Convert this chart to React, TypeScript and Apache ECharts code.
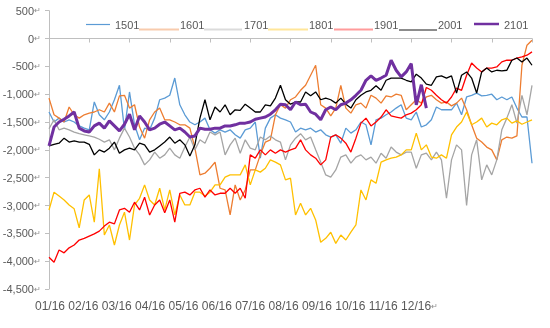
import React, { useEffect, useRef } from "react";
import * as echarts from "echarts";

const seriesNames = ["1501", "1601", "1701", "1801", "1901", "2001", "2101"];
const monthLabels = ["01/16", "02/16", "03/16", "04/16", "05/16", "06/16", "07/16", "08/16", "09/16", "10/16", "11/16", "12/16"];

const s1501 = [
  -1320, -1500, -1430, -1500, -1460, -1500, -1570, -1610, -1640, -1140,
  -1370, -1460, -1320, -1100, -840, -1640, -960, -1550, -1820, -1610,
  -1640, -1430, -1100, -1070, -1020, -710, -1190, -1370, -1500, -1550,
  -1500, -1430, -1640, -1700, -1640, -1680, -1640, -1730, -1790, -1640,
  -1610, -1500, -2150, -1610, -1430, -1370, -1430, -1460, -1500, -1680,
  -1610, -1640, -1610, -1680, -1640, -1730, -1770, -1730, -1880, -1610,
  -1700, -1640, -1500, -1550, -1910, -1460, -1430, -1370, -1320, -1250,
  -1190, -1430, -1460, -1320, -1590, -1550, -1460, -1230, -1280, -1280,
  -1280, -1160, -1370, -1050, -1020, -980, -1030, -1020, -1000, -1100,
  -1050, -1100, -1050, -1250, -1410, -1410, -2240,
];
const s1601 = [
  -1070, -1370, -1430, -1500, -1230, -1370, -1430, -1370, -1340, -1320,
  -1280, -1320, -1160, -1320, -1030, -1020, -1250, -1190, -1590, -1790,
  -1460, -1320, -1250, -1460, -1460, -1500, -1550, -1550, -1610, -1970,
  -2450, -2420, -2330, -2220, -2690, -2720, -3170, -2630, -2900, -2720,
  -2360, -2360, -2090, -1860, -1820, -1370, -1190, -1250, -1100, -1050,
  -930, -840, -660, -480, -1190, -1250, -1390, -1250, -840, -1250,
  -1340, -1190, -1160, -1250, -1020, -1070, -1160, -1030, -1050, -1000,
  -1020, -1280, -1190, -1100, -1160, -1050, -1020, -1100, -1160, -1140,
  -1210, -1160, -1070, -1280, -1550, -1790, -1860, -1950, -2000, -2180,
  -1820, -1770, -1790, -1750, -480, -120, -30,
];
const s1701 = [
  -1620, -1460, -1640, -1610, -1640, -1680, -1710, -1730, -1750, -1770,
  -1810, -1860, -1820, -2000, -1790, -1610, -1770, -1970, -2090, -2270,
  -2180, -2040, -2150, -2090, -1970, -2090, -2150, -1950, -1770, -2000,
  -1820, -1880, -1680, -1730, -1680, -2090, -1910, -1790, -2060, -1820,
  -1970, -2000, -1770, -1820, -1750, -1820, -1860, -2180, -1910, -1790,
  -1710, -1820, -1770, -2000, -2220, -2450, -2490, -2360, -2130, -2090,
  -2240, -2130, -2090, -2180, -2130, -2240, -2060, -2150, -1950, -2040,
  -2090, -2040, -2040, -2330, -2090, -2060, -2180, -2040, -2180, -2870,
  -2180, -1910, -2000, -3000, -2090, -1820, -2540, -2270, -2450, -2180,
  -1640, -1430, -1190, -1520, -1020, -1370, -840,
];
const s1801 = [
  -3080, -2760, -2830, -2900, -2990, -3060, -3400, -2900, -2810, -3300,
  -2340, -3530, -3350, -3710, -3350, -3120, -3620, -2990, -2870, -2630,
  -2900, -2990, -2690, -3080, -2720, -3170, -2810, -2990, -2990, -2760,
  -2760, -2830, -2760, -2630, -2630, -2490, -2450, -2450, -2450, -2270,
  -2630, -2360, -2400, -2330, -2180, -2220, -2270, -2540, -2510, -3170,
  -2960, -3170, -3050, -3260, -3660, -3590, -3480, -3680, -3530, -3620,
  -3480, -3350, -2720, -2900, -2540, -2600, -2220, -2180, -2150, -2130,
  -2090, -2000, -2000, -1700, -2000, -1910, -2130, -2150, -2090, -2150,
  -1730, -1590, -1500, -1320, -1550, -1500, -1430, -1590, -1520, -1550,
  -1460, -1430, -1520, -1480, -1540, -1500, -1460,
];
const s1901 = [
  -3930, -4020, -3800, -3850, -3760, -3710, -3620, -3590, -3550, -3510,
  -3460, -3370, -3300, -3330, -3080, -3050, -3120, -2940, -3080, -2850,
  -3170, -2990, -2900, -3130, -2900, -3300, -2780, -2760, -2810, -2720,
  -2690, -2850, -2720, -2810, -2780, -2780, -2690, -2780, -2690, -2870,
  -2090, -2150, -2000, -2090, -2000, -2060, -2000, -2040, -2000, -1970,
  -1820, -2000, -2090, -2150, -2270, -2180, -1770, -1730, -1790, -1880,
  -2040, -1790, -1520, -1430, -1570, -1500, -1410, -1280, -1390, -1410,
  -1430, -1370, -1340, -1280, -1190, -880, -930, -1020, -1100, -1160,
  -1050, -890, -930, -660, -440, -530, -600, -530, -530, -510,
  -420, -390, -390, -350, -330, -300, -240,
];
const s2001 = [
  -1930, -1900, -1880, -1790, -1860, -1840, -1860, -1860, -1900, -2090,
  -2000, -2040, -1970, -1860, -2060, -2000, -1970, -2000, -1880, -1910,
  -2040, -2000, -1930, -1860, -1770, -1880, -1820, -1910, -2110, -1910,
  -1430, -1100, -1460, -1230, -1320, -1190, -1370, -1280, -1290, -1180,
  -1250, -1320, -1320, -1190, -1210, -1070, -840, -1100, -1180, -1140,
  -1140, -960, -1030, -960, -1100, -1070, -1100, -1160, -1070, -1180,
  -1250, -1100, -1020, -960, -930, -850, -930, -750, -710, -710,
  -710, -750, -780, -640, -710, -820, -840, -690, -670, -710,
  -670, -980, -660, -600, -710, -980, -600, -530, -600, -570,
  -580, -570, -390, -350, -420, -350, -480,
];
const s2101 = [
  -1930, -1590, -1500, -1450, -1390, -1320, -1610, -1660, -1680, -1570,
  -1520, -1610, -1480, -1570, -1660, -1540, -1360, -1640, -1390, -1500,
  -1640, -1610, -1540, -1500, -1570, -1640, -1610, -1680, -1770, -1750,
  -1610, -1630, -1630, -1610, -1610, -1570, -1570, -1550, -1520, -1520,
  -1500, -1450, -1430, -1410, -1360, -1280, -1180, -1190, -1280, -1140,
  -1190, -1180, -1320, -1360, -1460, -1280, -1230, -1280, -1190, -1160,
  -1100, -1020, -930, -750, -670, -750, -710, -660, -390, -570,
  -690, -600, -450, -1190, -830, -1250,
];

const allSeries = [s1501, s1601, s1701, s1801, s1901, s2001, s2101];
const lineColors = ["#5B9BD5", "#ED7D31", "#A5A5A5", "#FFC000", "#FF0000", "#000000", "#7030A0"];
const legendColors = ["#5B9BD5", "#F8CBAD", "#DBDBDB", "#FFE699", "#FF9B9B", "#8C8C8C", "#7030A0"];
const lineWidths = [1.3, 1.3, 1.3, 1.3, 1.3, 1.3, 3];

// legend layout (pixel positions of the hand-drawn legend)
const legendIconX = [[86, 110], [139, 179], [204, 242], [268, 308], [334, 373], [399, 437], [474, 499]];
const legendIconY = [24.5, 29.5, 29.5, 29.5, 29.5, 30, 24];
const legendIconW = [1.2, 2, 2, 2, 2, 2, 2.5];
const legendTextX = [115, 180, 244, 309, 374, 438, 504];

const FONT = "'Liberation Sans', Arial, sans-serif";
const TXT = "#595959";

export default function App() {
  const ref = useRef<HTMLDivElement>(null);
  useEffect(() => {
    const chart = echarts.init(ref.current!, null, { renderer: "svg" });
    const legendGraphics: any[] = [];
    seriesNames.forEach((n, i) => {
      legendGraphics.push({
        type: "line",
        shape: { x1: legendIconX[i][0], y1: legendIconY[i], x2: legendIconX[i][1], y2: legendIconY[i] },
        style: { stroke: legendColors[i], lineWidth: legendIconW[i] },
      });
      legendGraphics.push({
        type: "text",
        x: legendTextX[i],
        y: 25,
        style: { text: n, font: `11px ${FONT}`, fill: TXT, verticalAlign: "middle", align: "left" },
      });
    });
    const option: any = {
      animation: false,
      textStyle: { fontFamily: FONT, color: TXT },
      grid: { left: 49, right: 18, top: 10.7, bottom: 39, outerBoundsMode: "none" },
      xAxis: {
        type: "value",
        min: 0,
        max: 96,
        interval: 8,
        axisLine: { show: true, onZero: true, lineStyle: { color: "#BFBFBF", width: 1 } },
        axisTick: { show: true, length: 4, lineStyle: { color: "#BFBFBF" } },
        axisLabel: { show: false },
        splitLine: { show: false },
      },
      yAxis: {
        type: "value",
        min: -4500,
        max: 500,
        interval: 500,
        axisLine: { show: true, lineStyle: { color: "#BFBFBF", width: 1 } },
        axisTick: { show: true, length: 4, lineStyle: { color: "#BFBFBF" } },
        splitLine: { show: false },
        axisLabel: {
          margin: 8,
          formatter: (v: number) => `{n|${v.toLocaleString("en-US")}}{r|↵}`,
          rich: {
            n: { fontFamily: FONT, fontSize: 11, color: TXT },
            r: { fontFamily: FONT, fontSize: 8, color: "#8C8C8C" },
          },
        },
      },
      graphic: [
        ...legendGraphics,
        {
          type: "text",
          left: 35,
          top: 300,
          style: {
            text: `{m|${monthLabels.join(" ")}}{r|↵}`,
            rich: {
              m: { fontFamily: FONT, fontSize: 12, fill: TXT, color: TXT },
              r: { fontFamily: FONT, fontSize: 8, fill: "#8C8C8C", color: "#8C8C8C" },
            },
          },
        },
      ],
      series: allSeries.map((arr, i) => ({
        type: "line",
        name: seriesNames[i],
        data: arr.map((v, k) => [k, v]),
        symbol: "none",
        color: lineColors[i],
        lineStyle: { width: lineWidths[i], color: lineColors[i] },
      })),
    };
    chart.setOption(option);
    return () => chart.dispose();
  }, []);
  return <div ref={ref} style={{ position: "fixed", left: 0, top: 0, width: 550, height: 328 }} />;
}
